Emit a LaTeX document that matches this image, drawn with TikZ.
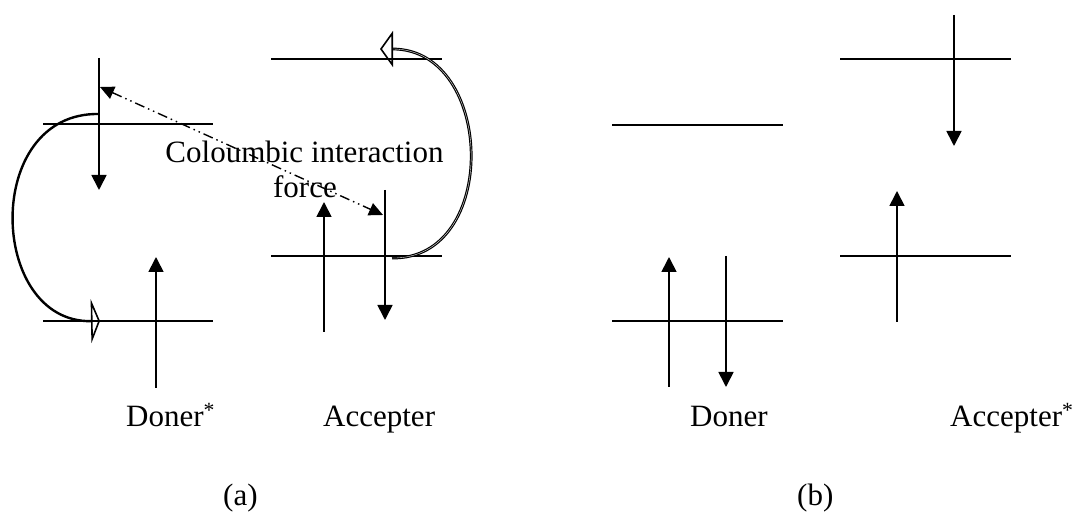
\documentclass[tikz,border=0pt]{standalone}
\usepackage{fontspec}
\setmainfont{Liberation Serif}
\usetikzlibrary{arrows.meta}
\begin{document}
\begin{tikzpicture}[x=1pt,y=-1pt,
  level/.style={line width=2.2pt},
  spin/.style={line width=1.7pt,-{Triangle[length=15pt,width=15pt]}},
  hop/.style={line width=2.4pt},
  txt/.style={inner sep=0pt,anchor=base west,font=\fontsize{31}{35}\selectfont},
  ctxt/.style={inner sep=0pt,anchor=base,font=\fontsize{31}{35}\selectfont},
  coul/.style={line width=1.4pt,
    dash pattern=on 10pt off 4pt on 1.5pt off 4pt on 1.5pt off 4pt,
    {Triangle[length=14pt,width=13pt]}-{Triangle[length=14pt,width=13pt]}}
]
\useasboundingbox (0,0) rectangle (1077,518);

% ---------- (a) donor excited, acceptor ground ----------
% donor levels and spins
\draw[level] (43,124) -- (213,124);
\draw[level] (43,321) -- (213,321);
\coordinate (dA1) at (99,58);   \coordinate (dA1e) at (99,190);
\coordinate (dA2) at (156,388); \coordinate (dA2e) at (156,257);
\draw[spin] (dA1) -- (dA1e);
\draw[spin] (dA2) -- (dA2e);
% acceptor levels and spins
\draw[level] (271,59) -- (442,59);
\draw[level] (271,256) -- (442,256);
\coordinate (aA1) at (324,332); \coordinate (aA1e) at (324,202);
\coordinate (aA2) at (385,190); \coordinate (aA2e) at (385,320);
\draw[spin] (aA1) -- (aA1e);
\draw[spin] (aA2) -- (aA2e);

% electron hops
\coordinate (hd0) at (99,114);  \coordinate (hd1) at (100,321);
\draw[hop,-{Triangle[open,length=9pt,width=44pt,line width=1.6pt]}]
  (hd0) .. controls (-18,112) and (-12,323) .. (hd1);
\coordinate (ha0) at (392,258); \coordinate (ha1) at (380,49);
\draw[line width=1.2pt,double=white,double distance=0.35pt,
      -{Triangle[open,length=13pt,width=36pt,line width=1.6pt]}]
  (ha0) .. controls (500,260) and (495,49) .. (ha1);

% coulombic interaction
\coordinate (cA) at (100,87); \coordinate (cB) at (383,215);
\draw[coul] (cA) -- (cB);
\node[ctxt] (ci1) at (304.5,163) {Coloumbic interaction};
\node[ctxt] (ci2) at (305,198) {force};

\node[txt] (ldA) at (126,427) {Doner\textsuperscript{*}};
\node[txt] (laA) at (323,427) {Accepter};
\node[txt] (capA) at (223,506) {(a)};

% ---------- (b) donor ground, acceptor excited ----------
\draw[level] (612,125) -- (783,125);
\draw[level] (612,321) -- (783,321);
\coordinate (dB1) at (669,387); \coordinate (dB1e) at (669,257);
\coordinate (dB2) at (726,256); \coordinate (dB2e) at (726,387);
\draw[spin] (dB1) -- (dB1e);
\draw[spin] (dB2) -- (dB2e);
\draw[level] (840,59) -- (1011,59);
\draw[level] (840,256) -- (1011,256);
\coordinate (aB1) at (954,15);  \coordinate (aB1e) at (954,146);
\coordinate (aB2) at (897,322); \coordinate (aB2e) at (897,191);
\draw[spin] (aB1) -- (aB1e);
\draw[spin] (aB2) -- (aB2e);

\node[txt] (ldB) at (690,427) {Doner};
\node[txt] (laB) at (950,427) {Accepter\textsuperscript{*}};
\node[txt] (capB) at (797,506) {(b)};
\end{tikzpicture}
\end{document}
